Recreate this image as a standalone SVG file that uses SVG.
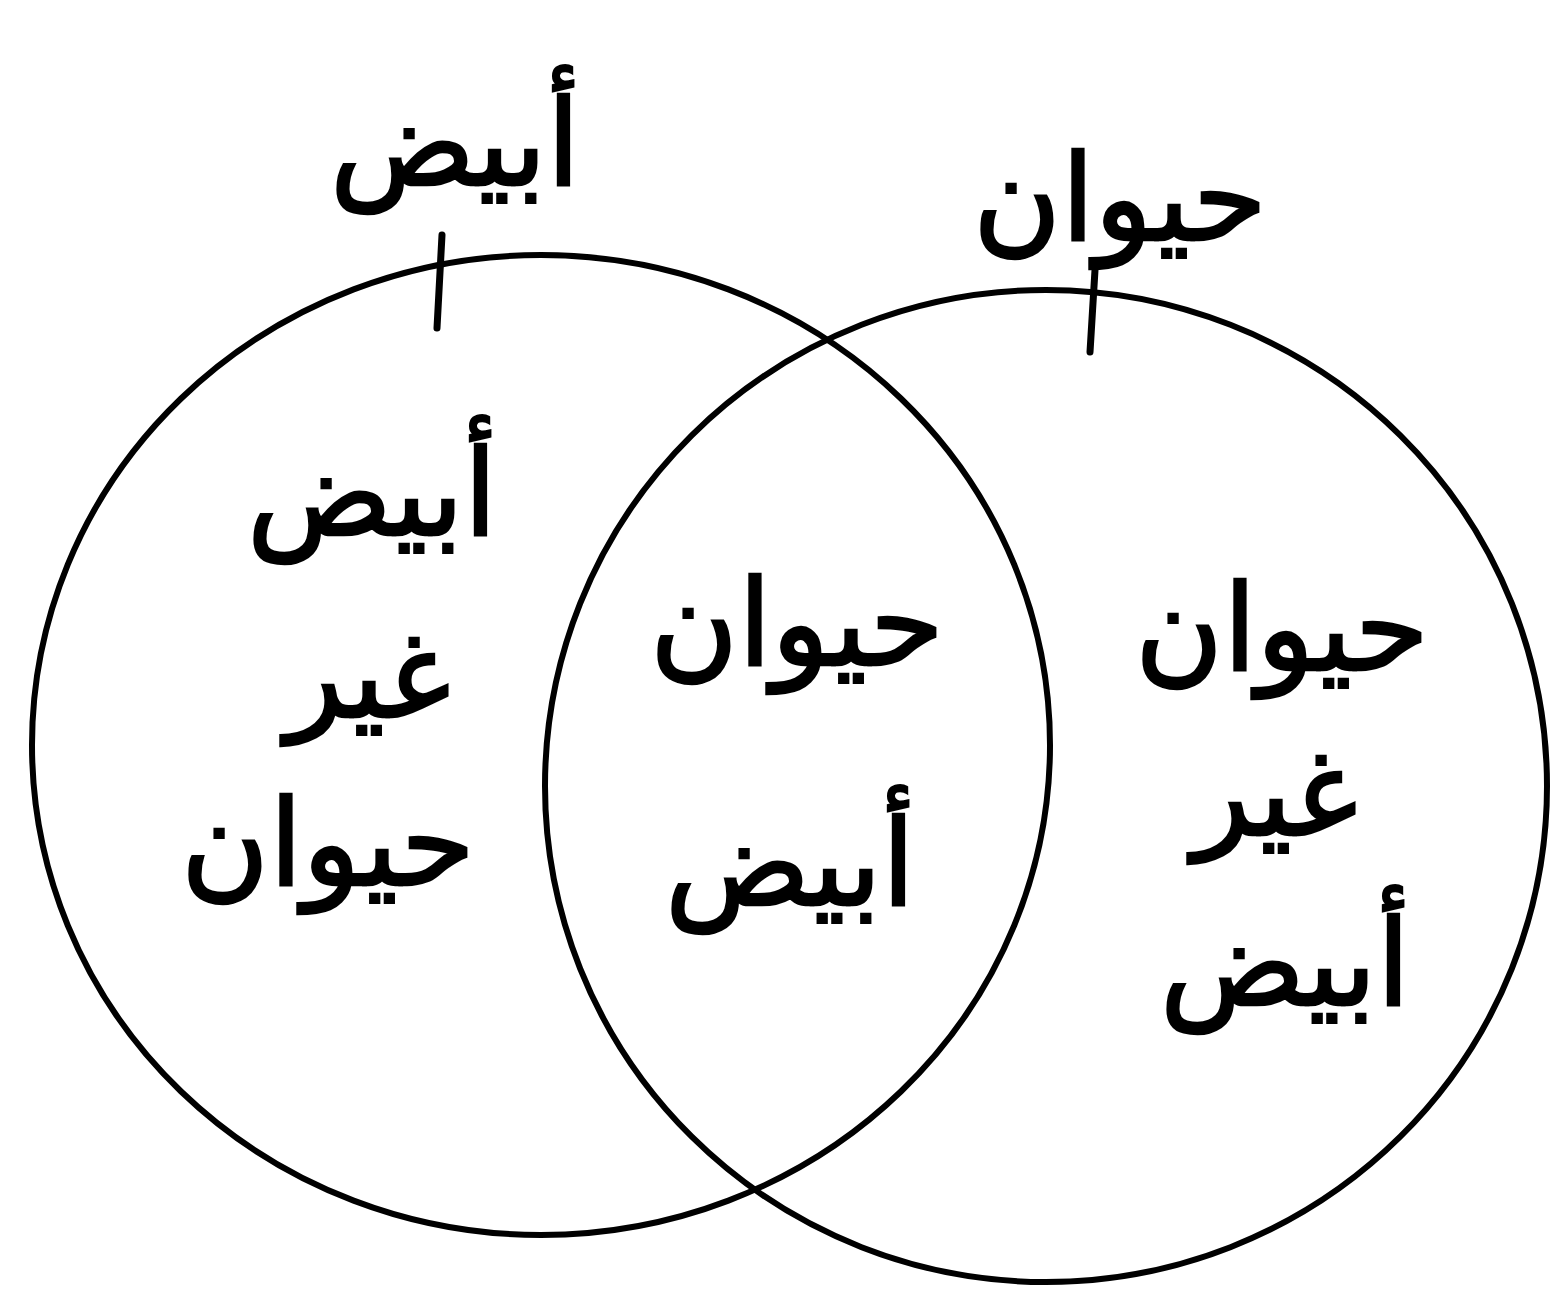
<svg xmlns="http://www.w3.org/2000/svg" width="1550" height="1292" viewBox="0 0 1550 1292">
<style>
.c{fill:none;stroke:#000;stroke-width:6}
.t{stroke:#000;stroke-width:7;stroke-linecap:round}
.l{font-family:"DejaVu Sans",sans-serif;font-size:120px;fill:#000;stroke:#000;stroke-width:2.5;text-anchor:middle}
</style>
<rect width="1550" height="1292" fill="#fff"/>
<g id="set-white">
<ellipse class="c" cx="541" cy="745" rx="509" ry="490"/>
<line class="t" x1="442" y1="235" x2="437" y2="328"/>
<text class="l" x="455" y="185">أبيض</text>
</g>
<g id="set-animal">
<ellipse class="c" cx="1046" cy="786" rx="501" ry="496"/>
<line class="t" x1="1095" y1="270" x2="1090" y2="352"/>
<text class="l" x="1120" y="240">حيوان</text>
</g>
<g id="region-left">
<text class="l" x="372" y="535">أبيض</text>
<text class="l" x="368" y="717">غير</text>
<text class="l" x="328" y="885">حيوان</text>
</g>
<g id="region-middle">
<text class="l" x="797" y="665">حيوان</text>
<text class="l" x="790" y="905">أبيض</text>
</g>
<g id="region-right">
<text class="l" x="1282" y="670">حيوان</text>
<text class="l" x="1275" y="835">غير</text>
<text class="l" x="1285" y="1005">أبيض</text>
</g>
<g id="connectors"></g>
</svg>
